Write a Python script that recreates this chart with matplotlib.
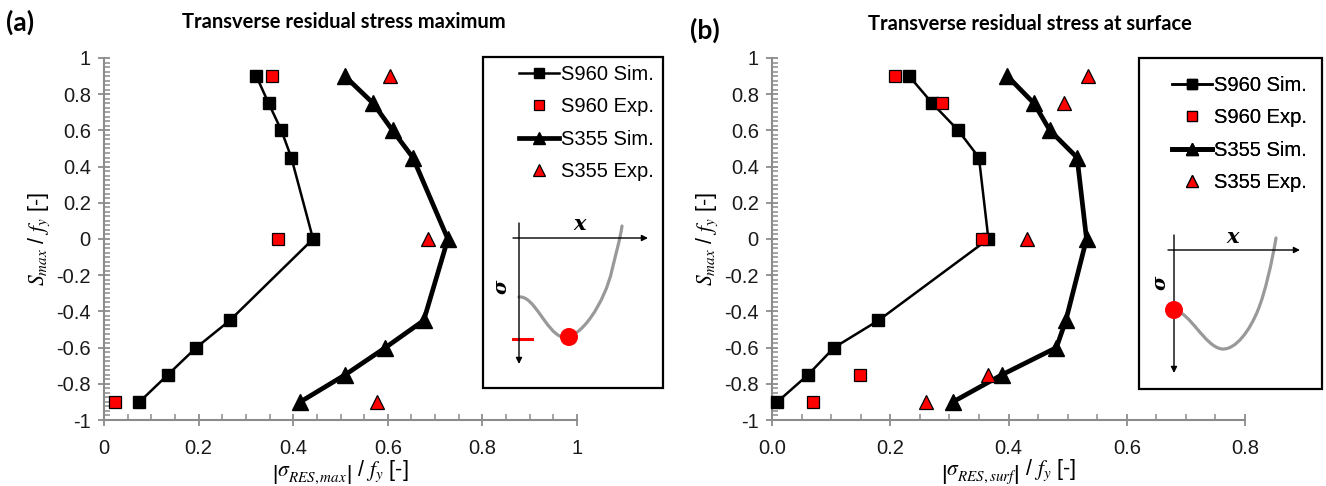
import matplotlib
matplotlib.use('Agg')
import matplotlib.pyplot as plt
from matplotlib.ticker import MultipleLocator, FuncFormatter
from matplotlib.patches import Rectangle, PathPatch, Circle
from matplotlib.path import Path

plt.rcParams['font.family'] = ['Liberation Sans', 'DejaVu Sans']
plt.rcParams['mathtext.fontset'] = 'stix'
plt.rcParams['axes.unicode_minus'] = False

# S_max / f_y levels (shared by both panels)
y_levels = [0.9, 0.75, 0.6, 0.45, 0.0, -0.45, -0.6, -0.75, -0.9]

# (a) residual stress maximum
s960_sim_a = [0.322, 0.348, 0.375, 0.396, 0.442, 0.266, 0.195, 0.135, 0.075]
s960_exp_a_y = [0.9, 0.0, -0.9]
s960_exp_a = [0.356, 0.368, 0.023]
s355_sim_a = [0.509, 0.569, 0.610, 0.653, 0.727, 0.676, 0.595, 0.510, 0.415]
s355_exp_a_y = [0.9, 0.0, -0.9]
s355_exp_a = [0.605, 0.685, 0.577]

# (b) residual stress at surface
s960_sim_b = [0.232, 0.271, 0.315, 0.350, 0.366, 0.180, 0.105, 0.061, 0.009]
s960_exp_b_y = [0.9, 0.75, 0.0, -0.75, -0.9]
s960_exp_b = [0.208, 0.287, 0.355, 0.148, 0.069]
s355_sim_b = [0.398, 0.443, 0.470, 0.516, 0.532, 0.497, 0.481, 0.389, 0.306]
s355_exp_b_y = [0.9, 0.75, 0.0, -0.75, -0.9]
s355_exp_b = [0.535, 0.494, 0.432, 0.366, 0.260]

labels = ['S960 Sim.', 'S960 Exp.', 'S355 Sim.', 'S355 Exp.']

W, H = 1326, 486
fig = plt.figure(figsize=(W / 100, H / 100), dpi=100)

def px_axes(x0, y0, x1, y1):
    # axes from pixel box (top-left origin)
    return fig.add_axes([x0 / W, 1 - y1 / H, (x1 - x0) / W, (y1 - y0) / H])

axl = px_axes(104, 58, 577, 420)
axr = px_axes(772, 58, 1245, 420)

grey = '#8c8c8c'

def style(ax, xmax, xfmt):
    ax.set_xlim(0, xmax)
    ax.set_ylim(-1, 1)
    for s in ['top', 'right']:
        ax.spines[s].set_visible(False)
    for s in ['left', 'bottom']:
        ax.spines[s].set_color(grey)
        ax.spines[s].set_linewidth(1.5)
    ax.xaxis.set_major_locator(MultipleLocator(0.2))
    ax.xaxis.set_minor_locator(MultipleLocator(0.05))
    ax.yaxis.set_major_locator(MultipleLocator(0.2))
    ax.yaxis.set_minor_locator(MultipleLocator(0.025))
    ax.xaxis.set_major_formatter(FuncFormatter(xfmt))
    ax.yaxis.set_major_formatter(FuncFormatter(lambda v, p: '{:g}'.format(round(v, 2))))
    ax.tick_params(which='major', direction='inout', length=9, width=1.3, color=grey,
                   labelsize=14.5, labelcolor='#1a1a1a')
    ax.tick_params(which='minor', direction='in', length=4, width=1.1, color=grey)
    ax.tick_params(axis='x', which='major', pad=9)
    ax.tick_params(axis='y', which='major', pad=5)
    ax.set_ylabel(r'$S_{max}$ / $f_y$ [-]', fontsize=15.5, labelpad=3)

def draw(ax, sim960, ey960, ex960, sim355, ey355, ex355):
    ax.plot(sim960, y_levels, color='black', lw=1.8, marker='s', ms=8.5, clip_on=False, zorder=3)
    ax.plot(ex960, ey960, ls='none', marker='s', ms=8, mfc='red', mec='black', mew=0.9,
            clip_on=False, zorder=4)
    ax.plot(sim355, y_levels, color='black', lw=3.4, marker='^', ms=11, clip_on=False, zorder=3)
    ax.plot(ex355, ey355, ls='none', marker='^', ms=10.5, mfc='red', mec='black', mew=0.9,
            clip_on=False, zorder=4)

draw(axl, s960_sim_a, s960_exp_a_y, s960_exp_a, s355_sim_a, s355_exp_a_y, s355_exp_a)
draw(axr, s960_sim_b, s960_exp_b_y, s960_exp_b, s355_sim_b, s355_exp_b_y, s355_exp_b)

style(axl, 1.0, lambda v, p: '{:g}'.format(round(v, 2)))
style(axr, 0.8, lambda v, p: '{:.1f}'.format(v))
axl.set_xlabel(r'$\left|\sigma^{\ }_{RES,max}\right|$ / $f_y$ [-]', fontsize=15.5, labelpad=0)
axr.set_xlabel(r'$\left|\sigma^{\ }_{RES,surf}\right|$ / $f_y$ [-]', fontsize=15.5, labelpad=0)

# titles and panel letters
fig.text(344 / W, 1 - 22 / H, 'Transverse residual stress maximum', ha='center', va='center',
         fontsize=14.5, fontweight='bold', family='Lato')
fig.text(1030 / W, 1 - 24 / H, 'Transverse residual stress at surface', ha='center', va='center',
         fontsize=14.5, fontweight='bold', family='Lato')
fig.text(6 / W, 1 - 22 / H, '(a)', ha='left', va='center', fontsize=19, fontweight='bold', family='Lato')
fig.text(690 / W, 1 - 30 / H, '(b)', ha='left', va='center', fontsize=19, fontweight='bold', family='Lato')

# overlay in pixel coordinates for legend boxes and schematics
ov = fig.add_axes([0, 0, 1, 1], zorder=5)
ov.set_xlim(0, W)
ov.set_ylim(H, 0)
ov.axis('off')
ov.patch.set_alpha(0)

boxes = [(483, 57, 663, 388), (1139, 58, 1322, 389)]
for (x0, y0, x1, y1) in boxes:
    ov.add_patch(Rectangle((x0, y0), x1 - x0, y1 - y0, fill=False, ec='black', lw=1.6))

for ax, hx, hy in [(axl, 519, 65), (axr, 1172, 76)]:
    leg = ov.legend(ax.get_lines()[:4], labels, loc='upper left', bbox_to_anchor=(hx, hy),
                    bbox_transform=ov.transData, frameon=False, fontsize=14.5,
                    handlelength=2.0, handletextpad=0.1, labelspacing=0.66,
                    borderpad=0, borderaxespad=0, markerscale=0.85)
    ov.add_artist(leg)

# schematic curves (left: maximum, right: surface)
curve_a = [(519, 297), (534, 295), (546, 332), (562, 337),
           (580, 341), (605, 302), (612, 270), (616, 253), (620, 240), (622, 226)]
curve_b = [(1174, 310), (1190, 312), (1205, 347), (1222, 349),
           (1236, 350), (1250, 330), (1258, 310), (1265, 293), (1272, 262), (1276, 238)]
codes = [Path.MOVETO] + [Path.CURVE4] * 9

schem = [
    dict(vx=519, vy0=223, vy1=364, hy=238, hx0=513, hx1=648, curve=curve_a,
         dot=(569, 337), xlab=(580, 224), slab=(502, 287), tick=(513, 532, 339)),
    dict(vx=1174, vy0=235, vy1=373, hy=250, hx0=1168, hx1=1300, curve=curve_b,
         dot=(1174, 310), xlab=(1233, 237), slab=(1161, 283), tick=None),
]
for s in schem:
    ov.annotate('', xy=(s['vx'], s['vy1']), xytext=(s['vx'], s['vy0']),
                arrowprops=dict(arrowstyle='-|>', color='black', lw=1.0, mutation_scale=9,
                                shrinkA=0, shrinkB=0))
    ov.annotate('', xy=(s['hx1'], s['hy']), xytext=(s['hx0'], s['hy']),
                arrowprops=dict(arrowstyle='-|>', color='black', lw=1.0, mutation_scale=9,
                                shrinkA=0, shrinkB=0))
    ov.add_patch(PathPatch(Path(s['curve'], codes), fill=False, ec='#999999', lw=2.3,
                           capstyle='round'))
    ov.add_patch(Circle(s['dot'], 9, color='red', ec='none', zorder=6))
    ov.text(*s['xlab'], 'x', ha='center', va='center', fontsize=15, fontstyle='italic',
            fontweight='bold', family='DejaVu Serif')
    ov.text(*s['slab'], 'σ', ha='center', va='center', fontsize=14, fontstyle='italic',
            fontweight='bold', family='DejaVu Serif', rotation=90)
    if s['tick']:
        tx0, tx1, ty = s['tick']
        ov.plot([tx0, tx1], [ty, ty], color='red', lw=2.2)

fig.savefig('out.png', dpi=100)
